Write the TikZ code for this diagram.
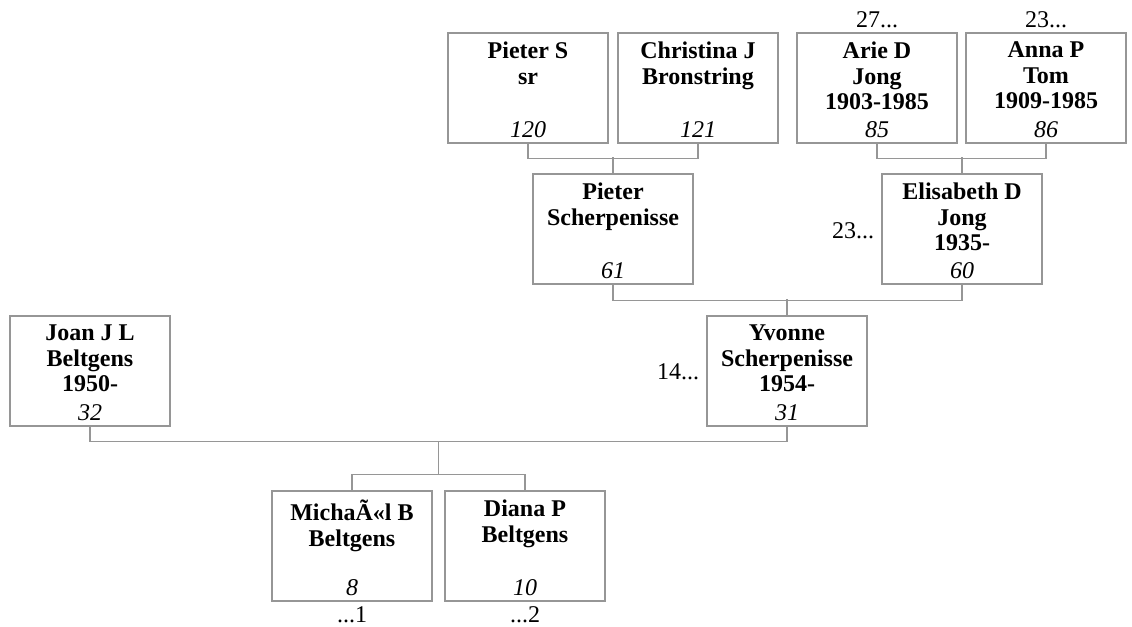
\documentclass[tikz,border=0pt]{standalone}
\usepackage{fontspec}
\setmainfont{Liberation Serif}
\usepackage{tikz}
\usetikzlibrary{calc}
\definecolor{lgray}{RGB}{150, 150, 150}
\tikzset{person/.style = {draw=lgray, line width=0.6pt, minimum width=80pt,
                          minimum height=55pt, inner sep=0pt},
         who/.style = {anchor=north, align=center, inner sep=0pt, yshift=-4.5pt,
                       font=\fontsize{12}{12.8}\selectfont\bfseries},
         num/.style = {anchor=base, inner sep=0pt, yshift=3.2pt,
                       font=\fontsize{12}{12.5}\selectfont\itshape},
         more/.style = {inner sep=0pt, font=\fontsize{12}{12.5}\selectfont},
         link/.style = {draw=lgray, line width=0.6pt}}

\begin{document}
\begin{tikzpicture}[x=0.5pt, y=-0.5pt]
      \useasboundingbox (0, 0) rectangle (1132, 627);

      \node [person] (p120) at (528, 88) {};
      \node [person] (p121) at (698, 88) {};
      \node [person] (p85) at (877, 88) {};
      \node [person] (p86) at (1046, 88) {};
      \node [person] (p61) at (613, 229) {};
      \node [person] (p60) at (962, 229) {};
      \node [person] (p32) at (90, 371) {};
      \node [person] (p31) at (787, 371) {};
      \node [person] (p8) at (352, 546) {};
      \node [person] (p10) at (525, 546) {};

      \node [who] (n120) at (p120.north) {Pieter S\\sr};
      \node [who] (n121) at (p121.north) {Christina J\\Bronstring};
      \node [who] (n85) at (p85.north) {Arie D\\Jong\\1903-1985};
      \node [who] (n86) at (p86.north) {Anna P\\Tom\\1909-1985};
      \node [who] (n61) at (p61.north) {Pieter\\Scherpenisse};
      \node [who] (n60) at (p60.north) {Elisabeth D\\Jong\\1935-};
      \node [who] (n32) at (p32.north) {Joan J L\\Beltgens\\1950-};
      \node [who] (n31) at (p31.north) {Yvonne\\Scherpenisse\\1954-};
      \node [who] (n8) at (p8.north) {MichaÃ«l B\\Beltgens};
      \node [who] (n10) at (p10.north) {Diana P\\Beltgens};

      \node [num] (i120) at (p120.south) {120};
      \node [num] (i121) at (p121.south) {121};
      \node [num] (i85) at (p85.south) {85};
      \node [num] (i86) at (p86.south) {86};
      \node [num] (i61) at (p61.south) {61};
      \node [num] (i60) at (p60.south) {60};
      \node [num] (i32) at (p32.south) {32};
      \node [num] (i31) at (p31.south) {31};
      \node [num] (i8) at (p8.south) {8};
      \node [num] (i10) at (p10.south) {10};

      % links to the ancestors and descendants not shown
      \node [more, anchor=base, yshift=2.5pt] (up85) at (p85.north) {27...};
      \node [more, anchor=base, yshift=2.5pt] (up86) at (p86.north) {23...};
      \node [more, anchor=base east, xshift=-3.5pt, yshift=-4.5pt] (up60) at (p60.west) {23...};
      \node [more, anchor=base east, xshift=-3.5pt, yshift=-4pt] (up31) at (p31.west) {14...};
      \node [more, anchor=base, yshift=-10.5pt] (dn8) at (p8.south) {...1};
      \node [more, anchor=base, yshift=-10.5pt] (dn10) at (p10.south) {...2};

      \draw [link] (p120.south) -- ++(0, 15) -| (p121.south);
      \draw [link] (p61.north) -- ++(0, -16);
      \draw [link] (p85.south) -- ++(0, 15) -| (p86.south);
      \draw [link] (p60.north) -- ++(0, -16);
      \draw [link] (p61.south) -- ++(0, 16) -| (p60.south);
      \draw [link] (p31.north) -- ++(0, -16);
      \draw [link] (p32.south) -- ++(0, 15) coordinate (bar) -| (p31.south);
      \draw [link] (p8.north) -- ++(0, -16) coordinate (kids) -| (p10.north);
      \draw [link] ($(kids)!0.5!(kids -| p10.north)$) -- (bar -| {$(kids)!0.5!(kids -| p10.north)$});
    \end{tikzpicture}
\end{document}
